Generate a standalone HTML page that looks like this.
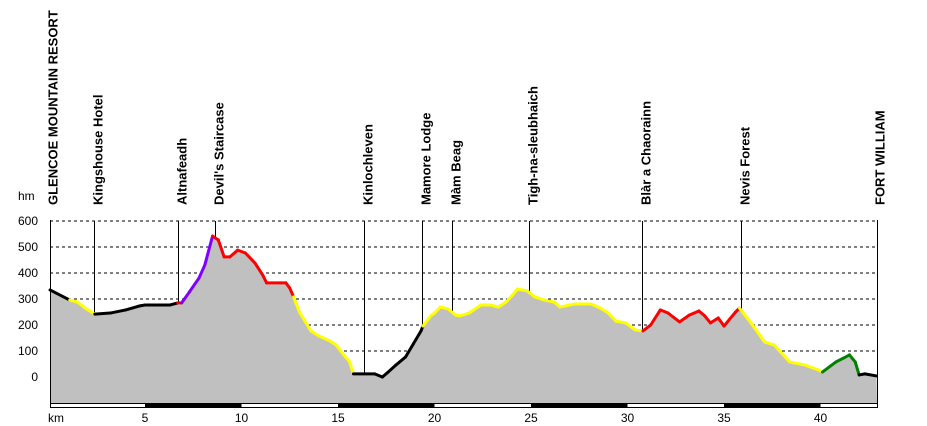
<!DOCTYPE html>
<html><head><meta charset="utf-8"><style>
body{margin:0;background:#fff;}
svg{display:block;font-family:"Liberation Sans",Arial,sans-serif;}
</style></head><body>
<svg id="chart" width="927" height="426" viewBox="0 0 927 426" xmlns="http://www.w3.org/2000/svg">
<g id="grid"></g>
<path id="area" fill="#c0c0c0"></path>
<g id="markers"></g>
<g id="lines"></g>
<g id="axes"></g>
<g id="labels"></g>
</svg>
<script>
const kms=[0.08,1.1,1.5,1.9,2.4,3.2,4.0,4.7,5,6.3,6.7,6.9,7.3,7.8,8.1,8.5,8.8,9.1,9.4,9.8,10.2,10.7,11.1,11.3,12,12.3,12.5,12.7,13.0,13.6,14.0,14.6,14.9,15.3,15.6,15.8,16.9,17.3,17.6,18.0,18.5,18.9,19.3,19.4,19.8,20,20.3,20.7,21.1,21.3,21.8,22.4,22.9,23.3,23.7,24,24.3,24.8,25.2,25.7,26.2,26.5,27,27.3,28.1,28.6,29.0,29.4,29.9,30.4,30.8,31.2,31.7,32.1,32.7,33.2,33.7,34.0,34.3,34.7,35.0,35.6,35.8,36.4,37.1,37.6,38.4,39.2,39.9,40.1,40.8,41.2,41.5,41.8,42.0,42.3,42.9];
const elevs=[335,296,288,265,242,246,258,273,277,277,285,285,327,381,431,542,527,462,462,488,477,438,392,362,362,362,342,308,250,177,158,138,123,85,58,12,12,0,19,46,77,127,177,196,235,246,269,262,238,235,246,277,277,269,288,312,338,331,308,296,288,269,277,281,281,265,246,215,208,181,177,200,258,246,212,238,254,235,208,227,196,250,265,208,135,123,58,46,27,19,58,73,85,58,8,12,4];
// segment colour starting at each point
const segColors=['k','y','y','y','k','k','k','k','k','k','r','p','p','p','p','r','r','r','r','r','r','r','r','r','r','r','r','y','y','y','y','y','y','y','y','k','k','k','k','k','k','k','k','y','y','y','y','y','y','y','y','y','y','y','y','y','y','y','y','y','y','y','y','y','y','y','y','y','y','y','r','r','r','r','r','r','r','r','r','r','r','r','y','y','y','y','y','y','y','g','g','g','g','g','k','k','k'];
const yTicks=[0,100,200,300,400,500,600];
const xTicks=[5,10,15,20,25,30,35,40];
const placeNames=["GLENCOE MOUNTAIN RESORT","Kingshouse Hotel","Altnafeadh","Devil's Staircase","Kinlochleven","Mamore Lodge","Màm Beag","Tigh-na-sleubhaich","Blàr a Chaorainn","Nevis Forest","FORT WILLIAM"];
const placeKms=[0.08,2.36,6.7,8.62,16.35,19.35,20.9,24.9,30.75,35.88,42.9];

const NS="http://www.w3.org/2000/svg";
const X0=50,X1=877,YTOP=221,YBOT=403;
const xs=k=>48.5+19.3*k;
const ys=e=>377-e*0.26;
const col={k:'#000',y:'#ffff00',r:'#ff0000',p:'#8000ff',g:'#008000'};
function mk(t,a,p){const e=document.createElementNS(NS,t);for(const k in a)e.setAttribute(k,a[k]);p.appendChild(e);return e;}
const grid=document.getElementById('grid'),axes=document.getElementById('axes'),lines=document.getElementById('lines'),labels=document.getElementById('labels'),markers=document.getElementById('markers');
const pxs=kms.map(k=>Math.max(X0,Math.min(X1,xs(k))));
let d=`M${X0},${YBOT} L${X0},${ys(elevs[0])}`;
kms.forEach((k,i)=>{d+=` L${pxs[i]},${ys(elevs[i])}`;});
d+=` L${X1},${YBOT} Z`;
document.getElementById('area').setAttribute('d',d);
yTicks.forEach(v=>{
 const y=ys(v);
 const l=mk('line',{x1:X0,x2:X1,y1:y,y2:y,stroke:'#000','stroke-dasharray':'3,3','stroke-width':1},grid);
 
 
 const t=mk('text',{x:38,y:y+4,'text-anchor':'end','font-size':12,fill:'#000'},axes);
 t.textContent=v;
 
 
});
for(let i=0;i<kms.length-1;i++){
 const l=mk('line',{x1:pxs[i],y1:ys(elevs[i]),x2:pxs[i+1],y2:ys(elevs[i+1]),stroke:col[segColors[i]],'stroke-width':3,'stroke-linecap':'round'},lines);
 
 
}
function elevAt(k){for(let i=0;i<kms.length-1;i++){if(k>=kms[i]&&k<=kms[i+1]){const f=(k-kms[i])/(kms[i+1]-kms[i]);return elevs[i]+f*(elevs[i+1]-elevs[i]);}}return elevs[elevs.length-1];}
placeNames.forEach((n,i)=>{
 const x=Math.round(Math.max(X0,Math.min(X1,xs(placeKms[i]))))+0.5;
 if(i>0&&i<placeNames.length-1){
  const l=mk('line',{x1:x,x2:x,y1:YTOP,y2:ys(elevAt(placeKms[i])),stroke:'#000','stroke-width':1},markers);
  
  
 }
 const bx=x+(i==0?7:8);
 const t=mk('text',{x:0,y:0,transform:`translate(${bx},205) rotate(-90)`,'font-size':13,'font-weight':'bold',fill:'#000'},labels);
 t.textContent=n;
 
 
});
const la=mk('line',{x1:X0+0.5,x2:X0+0.5,y1:YTOP-1,y2:YBOT+5,stroke:'#000'},axes);


const ra=mk('line',{x1:X1+0.5,x2:X1+0.5,y1:YTOP-1,y2:YBOT+5,stroke:'#000'},axes);


const bar=mk('rect',{x:X0+0.5,y:YBOT+0.5,width:X1-X0,height:4,fill:'#fff',stroke:'#000'},axes);


for(let k=5;k<42;k+=10){
 const r=mk('rect',{x:xs(k),y:YBOT,width:Math.min(xs(k+5),X1)-xs(k),height:5,fill:'#000'},axes);
 
 
}
xTicks.forEach(k=>{
 const t=mk('text',{x:xs(k),y:422,'text-anchor':'middle','font-size':12,fill:'#000'},axes);
 t.textContent=k;
 
 
});
const km=mk('text',{x:48,y:422,'font-size':12,fill:'#000'},axes);km.textContent='km';


const hm=mk('text',{x:18,y:200,'font-size':12,fill:'#000'},axes);hm.textContent='hm';


</script>
</body></html>
